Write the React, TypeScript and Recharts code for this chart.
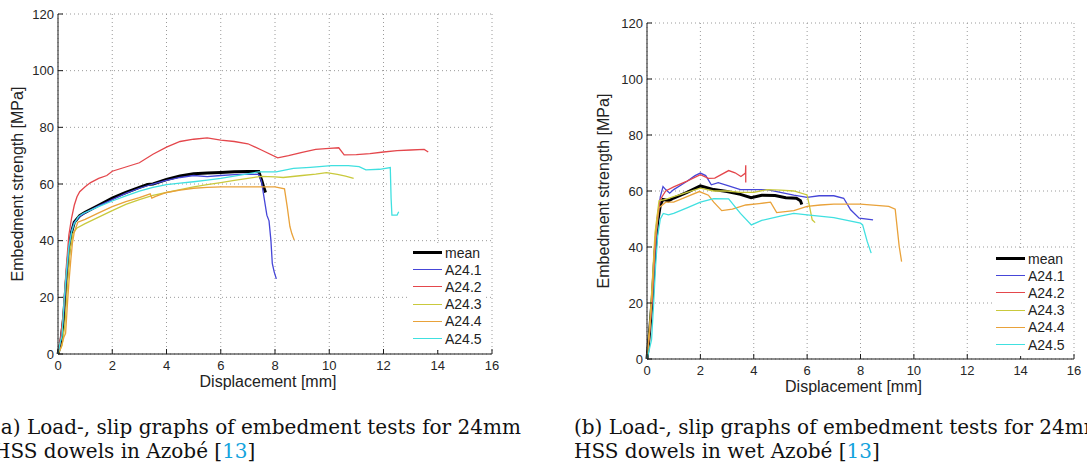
import { CartesianGrid, Legend, Line, LineChart, XAxis, YAxis } from "recharts";

type Pt = [number, number];

const xTicks = [0, 2, 4, 6, 8, 10, 12, 14, 16];
const yTicks = [0, 20, 40, 60, 80, 100, 120];
const seriesNames = ["mean", "A24.1", "A24.2", "A24.3", "A24.4", "A24.5"];
const seriesColors = ["#000000", "#4646d8", "#e4474c", "#c9c93c", "#e9a23a", "#40e0e0"];
const seriesWidths = [3, 1.3, 1.3, 1.3, 1.3, 1.3];

// (a) Azobé
const dryMean: Pt[] = [[0,0],[0.1,4],[0.2,12],[0.3,25],[0.4,36],[0.5,43],[0.6,46.5],[0.8,48.8],[1.0,50],[1.5,52.5],[2.0,55],[2.5,57],[3.0,58.8],[3.3,59.8],[3.5,60],[4.0,61.6],[4.5,62.8],[5.0,63.6],[5.5,63.9],[6.0,64.1],[6.5,64.3],[7.0,64.4],[7.4,64.4],[7.45,63],[7.52,61],[7.58,59],[7.65,57]];
const dryA1: Pt[] = [[0,0],[0.1,5],[0.2,13],[0.3,26],[0.4,37],[0.5,43.5],[0.6,46.5],[0.8,48.5],[1.0,49.8],[1.5,52.3],[2.0,54.5],[2.5,56.7],[3.0,58.5],[3.5,60],[4.0,61.3],[4.5,62.3],[5.0,63],[5.5,62.6],[6.0,63],[6.5,63.3],[7.0,63.5],[7.4,63.4],[7.5,61],[7.6,55],[7.7,49],[7.78,47],[7.85,40],[7.9,32],[7.97,29],[8.05,26.5]];
const dryA2: Pt[] = [[0,0],[0.1,6],[0.2,15],[0.3,30],[0.4,42],[0.5,48],[0.6,52.5],[0.7,55.5],[0.8,57.3],[1.0,59],[1.2,60.5],[1.5,62],[1.8,63],[2.0,64.5],[2.5,66],[3.0,67.5],[3.5,70.5],[4.0,73],[4.5,75],[5.0,75.8],[5.5,76.3],[6.0,75.5],[6.5,75],[7.0,74.2],[7.5,72],[8.1,69.2],[8.5,70],[9.0,71.2],[9.5,72.2],[10.0,72.6],[10.35,72.8],[10.55,70.3],[11.0,70.4],[11.5,70.7],[12.0,71.3],[12.5,71.8],[13.0,72],[13.5,72.2],[13.65,71.3]];
const dryA3: Pt[] = [[0,0],[0.15,3],[0.25,10],[0.35,25],[0.45,37],[0.55,42.5],[0.7,44.5],[1.0,46],[1.5,48.3],[2.0,50.6],[2.5,52.8],[3.0,54.5],[3.5,56],[4.0,57],[4.5,58],[5.0,59],[5.5,59.8],[6.0,60.5],[6.5,61.3],[7.0,62],[7.5,62.7],[8.0,62.5],[8.3,62.3],[9.0,63],[9.5,63.5],[9.9,64],[10.3,63.4],[10.6,62.8],[10.9,62]];
const dryA4: Pt[] = [[0,0],[0.1,2],[0.22,6],[0.28,7.3],[0.35,18],[0.4,25],[0.47,33],[0.53,39],[0.6,43],[0.73,46.5],[1.0,47.5],[1.5,49.8],[2.0,52],[2.5,53.8],[3.0,55.2],[3.4,56.5],[3.46,55],[3.6,55.6],[4.0,57],[4.5,57.8],[5.0,58.5],[5.5,58.8],[6.0,59],[7.0,59],[8.0,59],[8.35,58.3],[8.45,52],[8.55,45],[8.62,42.5],[8.66,41.5],[8.71,40.2]];
const dryA5: Pt[] = [[0,0],[0.08,4],[0.15,6.5],[0.22,18],[0.3,28],[0.4,38],[0.5,43],[0.6,46],[0.75,48.5],[0.92,49.6],[1.5,52],[2.0,54],[2.5,55.8],[3.0,57.5],[3.5,58.8],[4.0,59.8],[4.5,60.3],[5.0,60.8],[5.5,61.4],[6.0,62],[6.77,63.2],[7.4,64.3],[8.04,64.3],[8.68,65.5],[9.3,65.9],[10.08,66.5],[10.7,66.5],[11.1,66.1],[11.35,65],[11.86,65.2],[12.25,65.8],[12.28,55],[12.31,49],[12.5,49],[12.56,50.2]];

// (b) wet Azobé
const wetMean: Pt[] = [[0,0],[0.1,10],[0.2,22],[0.3,38],[0.4,49],[0.5,55],[0.6,57],[0.8,56.5],[1.0,57.5],[1.5,59.5],[2.0,61.8],[2.5,60.5],[3.0,59.8],[3.5,58.8],[3.9,57.6],[4.3,58.5],[4.8,58.4],[5.2,57.6],[5.6,57.4],[5.75,56.5],[5.8,55.2]];
const wetA1: Pt[] = [[0,0],[0.1,10],[0.2,22],[0.3,38],[0.4,50],[0.5,58],[0.6,61.6],[0.7,60.5],[0.85,59.2],[1.0,60.5],[1.5,63.5],[1.8,65.5],[2.0,66.4],[2.2,65.5],[2.41,62.2],[2.67,63],[3.0,62],[3.5,60.5],[4.0,60.5],[4.5,60.5],[5.0,59.5],[5.5,58.5],[6.0,57.7],[6.45,58.3],[7.0,58.3],[7.37,57.4],[7.63,53.3],[7.95,50.3],[8.47,49.7]];
const wetA2: Pt[] = [[0,0],[0.1,10],[0.2,22],[0.3,40],[0.4,52],[0.5,57],[0.7,60],[1.0,61.5],[1.5,63.5],[2.0,65.8],[2.3,64.5],[2.54,64.6],[3.06,67.3],[3.3,66.5],[3.52,65.2],[3.69,66.4],[3.7,69.2],[3.7,63]];
const wetA3: Pt[] = [[0,0],[0.1,12],[0.2,28],[0.3,45],[0.45,56.5],[0.7,57],[1.0,58],[1.5,59.5],[2.0,61],[2.5,60],[3.0,60],[3.5,59.5],[4.0,59.5],[4.5,60.5],[5.0,60.3],[5.5,60],[6.0,58.6],[6.09,54.5],[6.19,49.7],[6.3,48.7]];
const wetA4: Pt[] = [[0,0],[0.1,10],[0.2,24],[0.3,42],[0.45,54],[0.7,56],[1.0,56],[1.5,58],[1.96,59.8],[2.3,58.5],[2.5,56],[2.8,53],[3.2,53.5],[3.7,55],[4.2,55.5],[4.63,56],[4.86,52.3],[5.5,53],[6.0,54.5],[6.5,55],[7.0,55.3],[8.0,55.3],[9.06,54.5],[9.3,53.5],[9.45,40.2],[9.54,34.8]];
const wetA5: Pt[] = [[0,0],[0.1,4],[0.17,6.8],[0.25,20],[0.32,33],[0.4,44],[0.5,50],[0.61,52],[0.8,51.5],[1.0,52],[1.5,54],[2.0,56],[2.5,57.3],[3.06,57.2],[3.5,52],[3.91,47.9],[4.3,49.5],[5.0,51],[5.5,52],[6.0,51.5],[7.0,50.5],[8.0,48.5],[8.08,47.9],[8.25,42],[8.4,37.8]];

const drySeries = [dryMean, dryA1, dryA2, dryA3, dryA4, dryA5];
const wetSeries = [wetMean, wetA1, wetA2, wetA3, wetA4, wetA5];

const sans = '"Liberation Sans", Arial, sans-serif';
const axisColor = "#1a1a1a";

const toRows = (pts: Pt[]) => pts.map(([x, y]) => ({ x, y }));

function LegendBox() {
	return (
		<div style={{ background: "#fff", padding: "0 4px 3px 3px", fontFamily: sans, fontSize: 14, color: "#222" }}>
			{seriesNames.map((name, i) => (
				<div key={name} style={{ display: "flex", alignItems: "center", height: 17.2 }}>
					<span style={{ width: 29, borderTop: `${seriesWidths[i]}px solid ${seriesColors[i]}`, marginRight: 3 }} />
					<span>{name}</span>
				</div>
			))}
		</div>
	);
}

interface EmbedChartProps {
	series: Pt[][];
	width: number;
	height: number;
	margin: { top: number; right: number; bottom: number; left: number };
	yLabelOffset: number;
	legendLeft: number;
	legendTop: number;
}

function EmbedChart({ series, width, height, margin, yLabelOffset, legendLeft, legendTop }: EmbedChartProps) {
	return (
		<LineChart width={width} height={height} margin={margin}>
			<CartesianGrid stroke="#9a9a9a" strokeDasharray="1 3" />
			<XAxis
				type="number"
				dataKey="x"
				domain={[0, 16]}
				ticks={xTicks}
				height={36}
				tickSize={-5}
				tickMargin={12}
				stroke={axisColor}
				tick={{ fill: "#262626", fontSize: 13, fontFamily: sans }}
				label={{ value: "Displacement [mm]", position: "insideBottom", offset: 3, dx: -7, fill: "#222", fontSize: 16, fontFamily: sans }}
			/>
			<XAxis xAxisId="top" orientation="top" type="number" domain={[0, 16]} ticks={xTicks} height={0} tickSize={-5} tick={false} stroke={axisColor} />
			<YAxis
				type="number"
				domain={[0, 120]}
				ticks={yTicks}
				width={58}
				tickSize={-5}
				tickMargin={9}
				stroke={axisColor}
				tick={{ fill: "#262626", fontSize: 13, fontFamily: sans }}
				label={{ value: "Embedment strength [MPa]", angle: -90, position: "insideLeft", offset: yLabelOffset, style: { textAnchor: "middle" }, fill: "#222", fontSize: 16, fontFamily: sans }}
			/>
			<YAxis yAxisId="right" orientation="right" type="number" domain={[0, 120]} ticks={yTicks} width={0} tickSize={-5} tick={false} stroke={axisColor} />
			{series.map((pts, i) => (
				<Line
					key={seriesNames[i]}
					data={toRows(pts)}
					dataKey="y"
					name={seriesNames[i]}
					type="linear"
					stroke={seriesColors[i]}
					strokeWidth={seriesWidths[i]}
					dot={false}
					isAnimationActive={false}
				/>
			))}
			<Legend
				layout="vertical"
				align="center"
				verticalAlign="middle"
				content={() => <LegendBox />}
				wrapperStyle={{ left: legendLeft, top: legendTop, width: "auto", height: "auto" }}
			/>
		</LineChart>
	);
}

export default function App() {
	const caption = { position: "absolute" as const, top: 415, fontFamily: '"DejaVu Serif", serif', fontSize: 20, lineHeight: "24px", whiteSpace: "nowrap" as const, color: "#111" };
	const cite = { color: "#13a3dd" };
	return (
		<div style={{ position: "absolute", left: 0, top: 0, width: 1087, height: 465, overflow: "hidden", background: "#fff" }}>
			<div style={{ position: "absolute", left: 0, top: 0 }}>
				<EmbedChart series={drySeries} width={540} height={400} margin={{ top: 14, right: 48, bottom: 10, left: 0 }} yLabelOffset={17} legendLeft={410} legendTop={244} />
			</div>
			<div style={{ position: "absolute", left: 540, top: 0 }}>
				<EmbedChart series={wetSeries} width={547} height={400} margin={{ top: 23, right: 13, bottom: 5, left: 49 }} yLabelOffset={14} legendLeft={453} legendTop={250} />
			</div>
			<div style={{ ...caption, left: -7 }}>
				(a) Load-, slip graphs of embedment tests for 24mm
				<br />
				HSS dowels in Azobé [<span style={cite}>13</span>]
			</div>
			<div style={{ ...caption, left: 574 }}>
				(b) Load-, slip graphs of embedment tests for 24mm
				<br />
				HSS dowels in wet Azobé [<span style={cite}>13</span>]
			</div>
		</div>
	);
}
